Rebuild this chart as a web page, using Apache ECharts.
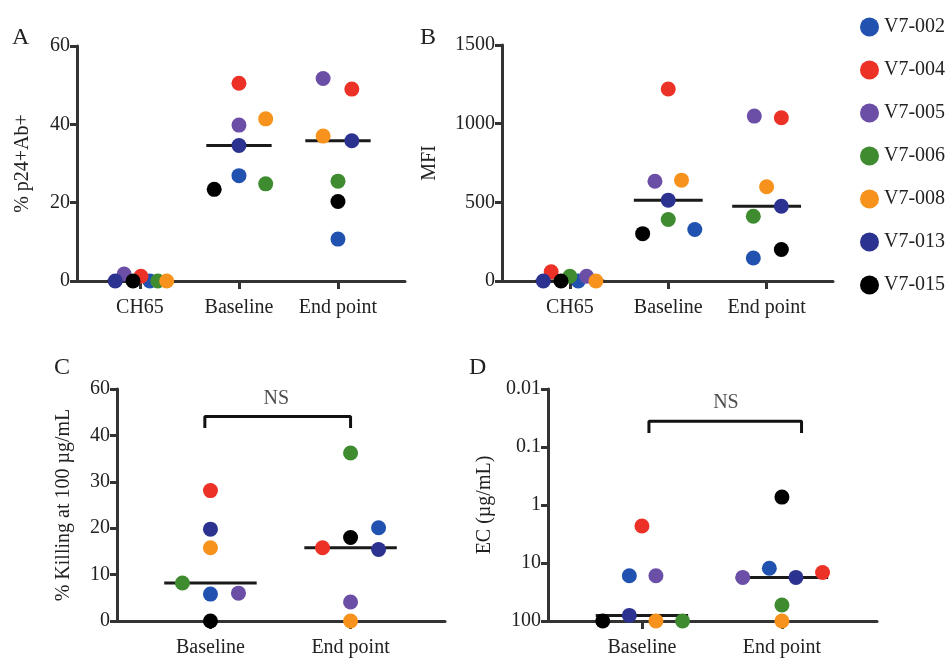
<!DOCTYPE html>
<html><head><meta charset="utf-8">
<script src="https://cdn.jsdelivr.net/npm/echarts@6/dist/echarts.min.js"></script>
<style>html,body{margin:0;padding:0;background:#fff}#c{width:950px;height:658px}</style>
</head><body><div id="c"></div>
<script>
// ---- data ----
const subjects = ['V7-002','V7-004','V7-005','V7-006','V7-008','V7-013','V7-015'];
const colors = ['#2152b0','#ec3127','#6b4ea6','#3f8b30','#f7931d','#2b3290','#000000'];
const catsAB = ['CH65','Baseline','End point'];
const catsCD = ['Baseline','End point'];
const ticksC = ['0','10','20','30','40','60'];
const ticksD = ['0.01','0.1','1','10','100'];

// panel A: % p24+Ab+
const aCH65 = [0, 1.2, 1.8, 0, 0, 0, 0];
const aBase = [26.9, 50.5, 39.8, 24.8, 41.4, 34.6, 23.4];
const aEnd  = [10.7, 49.0, 51.7, 25.5, 37.0, 35.8, 20.3];
// panel B: MFI
const bCH65 = [0, 58, 30, 30, 0, 0, 0];
const bBase = [327, 1220, 634, 391, 641, 514, 301];
const bEnd  = [146, 1038, 1048, 412, 599, 475, 200];
// panel C: % killing
const cBase = [5.8, 28.1, 6.0, 8.2, 15.8, 19.8, 0];
const cEnd  = [20.1, 15.8, 4.1, 36.2, 0, 15.4, 18.0];
// panel D: EC (ug/mL)
const dBase = [16.6, 2.3, 16.6, 100, 100, 80, 100];
const dEnd  = [12.3, 14.6, 17.7, 53, 100, 17.7, 0.73];

// beeswarm jitter (category units)
const jaCH65 = [0.10, 0.01, -0.16, 0.18, 0.27, -0.25, -0.07];
const jaBase = [0, 0, 0, 0.27, 0.27, 0, -0.25];
const jaEnd  = [0, 0.14, -0.15, 0, -0.15, 0.14, 0];
const jbCH65 = [0.085, -0.19, 0.17, 0, 0.265, -0.27, -0.09];
const jbBase = [0.27, 0, -0.135, 0, 0.135, 0, -0.26];
const jbEnd  = [-0.135, 0.15, -0.125, -0.135, 0, 0.15, 0.15];
const jcBase = [0, 0, 0.2, -0.2, 0, 0, 0];
const jcEnd  = [0.2, -0.2, 0, 0, 0, 0.2, 0];
const jdBase = [-0.09, 0, 0.1, 0.29, 0.1, -0.09, -0.28];
const jdEnd  = [-0.09, 0.29, -0.28, 0, 0, 0.1, 0];

// ---- build ----
const FONT = 'Liberation Serif';
const TXT = '#222';
const AX = '#333';
const median = arr => { const s = [...arr].sort((a,b)=>a-b); return s[Math.floor(s.length/2)]; };

const panels = [
  {groups:[aCH65,aBase,aEnd], jit:[jaCH65,jaBase,jaEnd], half:0.33},
  {groups:[bCH65,bBase,bEnd], jit:[jbCH65,jbBase,jbEnd], half:0.35},
  {groups:[cBase,cEnd], jit:[jcBase,jcEnd], half:0.33},
  {groups:[dBase,dEnd], jit:[jdBase,jdEnd], half:0.33}
];

const grid = [
  {left:77, top:46, width:328, height:235},
  {left:502, top:45, width:331, height:236},
  {left:117, top:389, width:328, height:234},
  {left:548, top:389, width:329, height:234}
];

const xBase = (cats, min, max, gi) => ({
  type:'value', gridIndex:gi, min:min, max:max,
  axisLine:{show:true, onZero:false, lineStyle:{color:AX, width:3}},
  axisTick:{show:true, length:8, customValues:cats.map((c,i)=>i), lineStyle:{color:AX, width:3}},
  axisLabel:{customValues:cats.map((c,i)=>i), formatter:v=>cats[Math.round(v)], margin:17, fontFamily:FONT, fontSize:20, color:TXT},
  splitLine:{show:false}
});
const yCommon = {
  axisLine:{show:true, onZero:false, lineStyle:{color:AX, width:3}},
  axisTick:{show:true, length:7, lineStyle:{color:AX, width:3}},
  axisLabel:{margin:7, fontFamily:FONT, fontSize:20, color:TXT, formatter:v=>String(v)},
  splitLine:{show:false},
  nameLocation:'middle', nameRotate:90,
  nameTextStyle:{fontFamily:FONT, fontSize:20, color:TXT}
};

const xAxis = [
  xBase(catsAB, -0.636, 2.677, 0),
  xBase(catsAB, -0.69, 2.675, 1),
  xBase(catsCD, -0.667, 1.674, 2),
  xBase(catsCD, -0.671, 1.679, 3)
];
const yAxis = [
  Object.assign({}, yCommon, {type:'value', gridIndex:0, min:0, max:60, interval:20, name:'% p24+Ab+', nameGap:44}),
  Object.assign({}, yCommon, {type:'value', gridIndex:1, min:0, max:1500, interval:500, name:'MFI', nameGap:62}),
  Object.assign({}, yCommon, {type:'value', gridIndex:2, min:0, max:50, interval:10, name:'% Killing at 100 µg/mL', nameGap:43,
    axisLabel:Object.assign({}, yCommon.axisLabel, {formatter:v=>ticksC[Math.round(v/10)]})}),
  Object.assign({}, yCommon, {type:'log', logBase:10, gridIndex:3, min:0.01, max:100, inverse:true, name:'EC (µg/mL)', nameGap:53,
    axisLabel:Object.assign({}, yCommon.axisLabel, {formatter:v=>ticksD[Math.round(Math.log10(v))+2]})})
];

const series = [];
// median lines
panels.forEach((p, pi) => {
  p.groups.forEach((g, ci) => {
    const m = median(g);
    series.push({type:'line', name:'median', xAxisIndex:pi, yAxisIndex:pi, silent:true, symbol:'none', z:1,
      lineStyle:{color:'#1a1a1a', width:3}, data:[[ci-p.half, m],[ci+p.half, m]]});
  });
});
// dots
subjects.forEach((s, si) => {
  panels.forEach((p, pi) => {
    series.push({type:'scatter', name:s, xAxisIndex:pi, yAxisIndex:pi, symbolSize:15, z:3,
      itemStyle:{color:colors[si], opacity:1},
      data:p.groups.map((g, ci) => [ci + p.jit[ci][si], g[si]])});
  });
});
// significance brackets
const nsC = [[-0.04, 41.6],[-0.04, 44.1],[1.0, 44.1],[1.0, 41.6]];
const nsD = [[0.05, 0.0571],[0.05, 0.0361],[1.14, 0.0361],[1.14, 0.0571]];
series.push({type:'line', name:'bracketC', xAxisIndex:2, yAxisIndex:2, symbol:'none', silent:true, lineStyle:{color:'#111', width:3}, data:nsC});
series.push({type:'line', name:'bracketD', xAxisIndex:3, yAxisIndex:3, symbol:'none', silent:true, lineStyle:{color:'#111', width:3}, data:nsD});
const nsLabel = {show:true, position:'inside', formatter:'NS', fontFamily:FONT, fontSize:20, color:TXT};
series.push({type:'scatter', name:'nsC', xAxisIndex:2, yAxisIndex:2, symbolSize:1, itemStyle:{color:'rgba(0,0,0,0)'}, label:nsLabel, data:[[0.47, 48.0]]});
series.push({type:'scatter', name:'nsD', xAxisIndex:3, yAxisIndex:3, symbolSize:1, itemStyle:{color:'rgba(0,0,0,0)'}, label:nsLabel, data:[[0.60, 0.0171]]});

const letter = (t, x, y) => ({type:'text', left:x, top:y, style:{text:t, font:'24px "Liberation Serif"', fill:'#222'}});

const chart = echarts.init(document.getElementById('c'), null, {renderer:'canvas'});
chart.setOption({
  backgroundColor:'#fff',
  animation:false,
  grid:grid,
  xAxis:xAxis,
  yAxis:yAxis,
  legend:{data:subjects, orient:'vertical', left:855, top:12, icon:'circle', itemWidth:19, itemHeight:19, itemGap:23,
    textStyle:{fontFamily:FONT, fontSize:20, color:TXT}, selectedMode:false},
  graphic:[letter('A', 12, 26), letter('B', 420, 26), letter('C', 54, 356), letter('D', 469, 356)],
  series:series
});
</script></body></html>
